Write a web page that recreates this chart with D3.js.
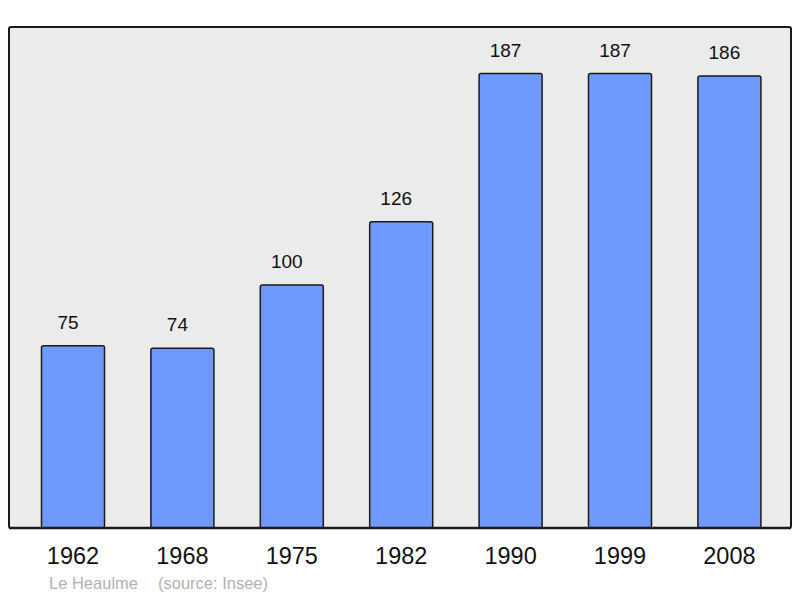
<!DOCTYPE html>
<html>
<head>
<meta charset="utf-8">
<script src="https://cdn.jsdelivr.net/npm/d3@7"></script>
<style>
  body { margin: 0; background: #ffffff; }
  svg { display: block; }
</style>
</head>
<body>
<svg id="container" width="800" height="598"></svg>
<script>
// Population by census year
var years = ["1962", "1968", "1975", "1982", "1990", "1999", "2008"];
var population = [75, 74, 100, 126, 187, 187, 186];
var creditText = ["Le Heaulme", "(source: Insee)"];

function drawPopulationChart()
{
    const svg = d3.select('#container');
    const fontFamily = "'Liberation Sans', Arial, sans-serif";

    const panel = { left: 9, top: 27, right: 791, bottom: 528 };

    // background panel
    svg.append("rect")
        .attr("x", panel.left).attr("y", panel.top)
        .attr("width", panel.right - panel.left).attr("height", panel.bottom - panel.top)
        .attr("rx", 2).attr("ry", 2)
        .attr("fill", "#ebebeb")
        .attr("stroke", "#1a1a1a").attr("stroke-width", 2);

    const x = d3.scaleBand()
        .domain(years)
        .range([18.3, 784.1])
        .paddingInner(0.424)
        .paddingOuter(0.212);

    const y = d3.scaleLinear()
        .domain([0, 187])
        .range([panel.bottom, 73.5]);

    const bars = svg.append("g");
    bars.selectAll("rect").data(years).join("rect")
        .attr("x", d => x(d))
        .attr("y", (d, i) => y(population[i]))
        .attr("width", x.bandwidth())
        .attr("height", (d, i) => panel.bottom - y(population[i]))
        .attr("rx", 2).attr("ry", 2)
        .attr("fill", "#7099ff")
        .attr("stroke", "#1a1a1a").attr("stroke-width", 1.5);

    // value labels above bars (sit a little left of bar centre)
    svg.append("g").selectAll("text").data(years).join("text")
        .attr("x", d => x(d) + x.bandwidth() / 2 - 5)
        .attr("y", (d, i) => y(population[i]) - 17)
        .attr("text-anchor", "middle")
        .attr("font-family", fontFamily).attr("font-size", 19)
        .attr("fill", "#111")
        .text((d, i) => population[i]);

    // redraw bottom edge of the panel over bar strokes
    svg.append("line")
        .attr("x1", panel.left).attr("x2", panel.right)
        .attr("y1", panel.bottom).attr("y2", panel.bottom)
        .attr("stroke", "#1a1a1a").attr("stroke-width", 2.5);

    // year axis
    const axis = svg.append("g")
        .attr("transform", "translate(0," + panel.bottom + ")")
        .call(d3.axisBottom(x).tickSize(0).tickPadding(0));
    axis.select(".domain").remove();
    axis.selectAll("text")
        .attr("y", 36).attr("dy", null)
        .attr("font-family", fontFamily).attr("font-size", 23.5)
        .attr("fill", "#111");

    // credit line
    svg.append("text")
        .attr("x", 49).attr("y", 589)
        .attr("font-family", fontFamily).attr("font-size", 16.5)
        .attr("fill", "#b3b3b3")
        .text(creditText[0]);
    svg.append("text")
        .attr("x", 158).attr("y", 589)
        .attr("font-family", fontFamily).attr("font-size", 16.5)
        .attr("fill", "#b3b3b3")
        .text(creditText[1]);
}

drawPopulationChart();
</script>
</body>
</html>
